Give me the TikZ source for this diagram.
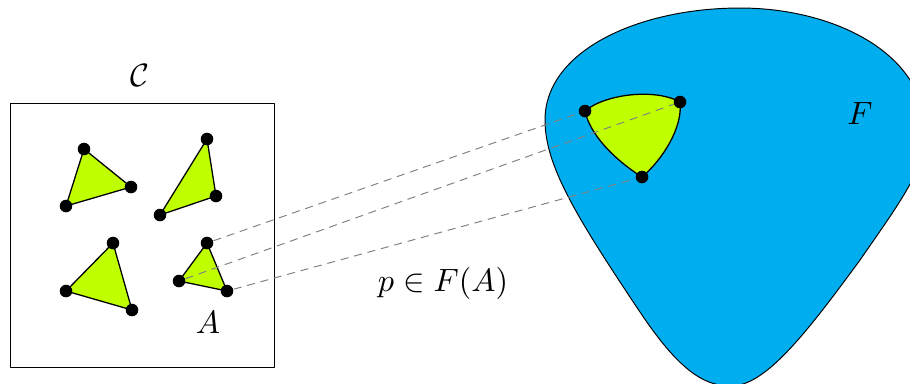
\documentclass[tikz,border=0pt]{standalone}
\usepackage{tikz}
\definecolor{limefill}{RGB}{191,255,0}
\definecolor{pickblue}{RGB}{0,174,239}
\pgfdeclarelayer{back}
\pgfdeclarelayer{mid}
\pgfsetlayers{back,mid,main}

\begin{document}
\begin{tikzpicture}[x=0.31pt, y=-0.31pt, line join=round,
  dot/.style={circle, fill=black, inner sep=0pt, minimum size=3.9pt},
  tri/.style={fill=limefill, draw=black, line width=0.4pt},
  link/.style={draw=gray, line width=0.3pt, dash pattern=on 2.5pt off 1.8pt}]

  %% ════ 左边：范畴 C 的方框 ════
  \draw[line width=0.3pt] (10,103) rectangle (274,367);
  \node (lblC) at (140,75) {$\mathcal{C}$};

  %% ════ 顶点（实心点）════
  \node[dot] (t1a) at (84,149) {};
  \node[dot] (t1b) at (131,187) {};
  \node[dot] (t1c) at (66,206) {};

  \node[dot] (t2a) at (207,139) {};
  \node[dot] (t2b) at (216,196) {};
  \node[dot] (t2c) at (160,215) {};

  \node[dot] (t3a) at (113,243) {};
  \node[dot] (t3b) at (132,310) {};
  \node[dot] (t3c) at (66,291) {};

  \node[dot] (tAa) at (207,243) {};
  \node[dot] (tAb) at (227,291) {};
  \node[dot] (tAc) at (179,281) {};
  \node (lblA) at (208,322) {$A$};

  %% ════ 三角形（放在 mid 层，点压在上面）════
  \begin{pgfonlayer}{mid}
    \draw[tri] (t1a.center) -- (t1b.center) -- (t1c.center) -- cycle;
    \draw[tri] (t2a.center) -- (t2b.center) -- (t2c.center) -- cycle;
    \draw[tri] (t3a.center) -- (t3b.center) -- (t3c.center) -- cycle;
    \draw[tri] (tAa.center) -- (tAb.center) -- (tAc.center) -- cycle;
  \end{pgfonlayer}

  %% ════ 右边：F 的蓝色区域（右端、下端超出画布）════
  \begin{pgfonlayer}{back}
    \draw[fill=pickblue, line width=0.3pt]
      (740,8) .. controls (640,8) and (545,50) .. (545,120)
      .. controls (545,165) and (575,215) .. (640,312)
      .. controls (680,372) and (705,386) .. (731,386)
      .. controls (765,386) and (805,335) .. (860,260)
      .. controls (905,195) and (928,165) .. (925,125)
      .. controls (920,50) and (830,8) .. (740,8) -- cycle;
  \end{pgfonlayer}
  \node (lblF) at (860,113) {$F$};

  %% ════ F(A) 中的弯三角形 ════
  \node[dot] (fL) at (585,111) {};
  \node[dot] (fR) at (680,102) {};
  \node[dot] (fB) at (642,177) {};
  \begin{pgfonlayer}{mid}
    \draw[tri] (fL.center) .. controls (605,94) and (655,88) .. (fR.center)
      .. controls (683,128) and (662,160) .. (fB.center)
      .. controls (615,160) and (590,135) .. (fL.center) -- cycle;
  \end{pgfonlayer}

  %% ════ 虚线对应 ════
  \draw[link] (tAa) -- (fL);
  \draw[link] (tAc) -- (fR);
  \draw[link] (tAb) -- (fB);
  \node (lblP) at (443,283) {$p \in F(A)$};

  % 钉死画布
  \pgfresetboundingbox
  \path[use as bounding box] (0,0) rectangle (910,383);
\end{tikzpicture}
\end{document}
